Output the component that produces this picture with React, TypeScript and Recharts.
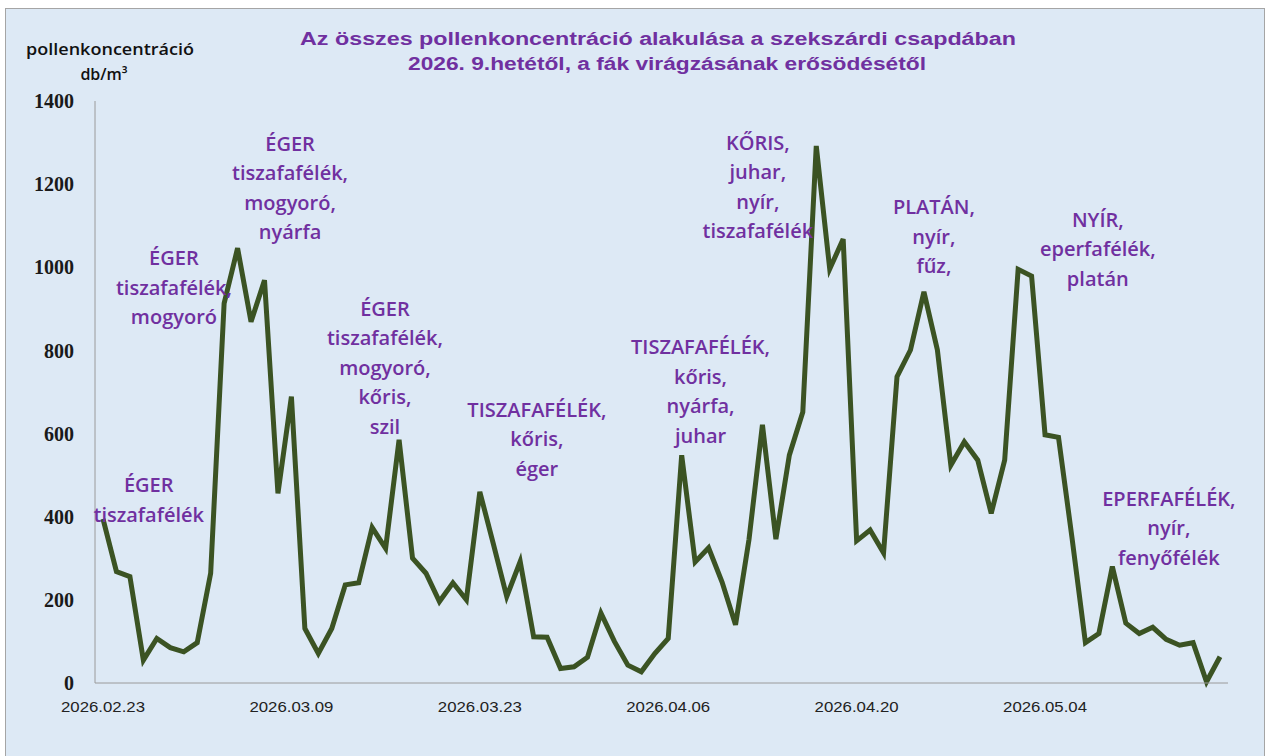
import React from 'react';
import { LineChart, Line, XAxis, YAxis, ReferenceDot } from 'recharts';

// napi dátumok (2026.02.23 - 2026.05.17)
const dates = [
  '2026.02.23', '2026.02.24', '2026.02.25', '2026.02.26', '2026.02.27', '2026.02.28',
  '2026.03.01', '2026.03.02', '2026.03.03', '2026.03.04', '2026.03.05', '2026.03.06', '2026.03.07',
  '2026.03.08', '2026.03.09', '2026.03.10', '2026.03.11', '2026.03.12', '2026.03.13', '2026.03.14',
  '2026.03.15', '2026.03.16', '2026.03.17', '2026.03.18', '2026.03.19', '2026.03.20', '2026.03.21',
  '2026.03.22', '2026.03.23', '2026.03.24', '2026.03.25', '2026.03.26', '2026.03.27', '2026.03.28',
  '2026.03.29', '2026.03.30', '2026.03.31',
  '2026.04.01', '2026.04.02', '2026.04.03', '2026.04.04', '2026.04.05', '2026.04.06', '2026.04.07',
  '2026.04.08', '2026.04.09', '2026.04.10', '2026.04.11', '2026.04.12', '2026.04.13', '2026.04.14',
  '2026.04.15', '2026.04.16', '2026.04.17', '2026.04.18', '2026.04.19', '2026.04.20', '2026.04.21',
  '2026.04.22', '2026.04.23', '2026.04.24', '2026.04.25', '2026.04.26', '2026.04.27', '2026.04.28',
  '2026.04.29', '2026.04.30',
  '2026.05.01', '2026.05.02', '2026.05.03', '2026.05.04', '2026.05.05', '2026.05.06', '2026.05.07',
  '2026.05.08', '2026.05.09', '2026.05.10', '2026.05.11', '2026.05.12', '2026.05.13', '2026.05.14',
  '2026.05.15', '2026.05.16', '2026.05.17',
];

// összes pollen, db/m3
const pollen = [
  395, 268, 256, 55, 107, 85, 75, 97, 264, 913, 1046, 869, 969, 456,
  689, 131, 71, 131, 236, 241, 374, 324, 585, 300, 264, 196, 241, 200,
  460, 335, 208, 292, 111, 110, 35, 39, 62, 168, 100, 43, 27, 71,
  107, 548, 291, 325, 243, 140, 345, 621, 346, 548, 652, 1292, 996, 1068,
  342, 368, 313, 737, 801, 941, 801, 524, 580, 536, 408, 536, 995, 979,
  597, 591, 350, 97, 119, 280, 144, 119, 134, 105, 91, 97, 3, 63,
];

const xTickDays = [0, 14, 28, 42, 56, 70];
const yTicks = [0, 200, 400, 600, 800, 1000, 1200, 1400];

// a feliratok helye adatkoordinátában (nap, érték)
const annotations = [
  { day: 3.4, value: 476, lines: ['ÉGER', 'tiszafafélék'] },
  { day: 5.27, value: 1022, lines: ['ÉGER', 'tiszafafélék,', 'mogyoró'] },
  { day: 13.9, value: 1297, lines: ['ÉGER', 'tiszafafélék,', 'mogyoró,', 'nyárfa'] },
  { day: 20.95, value: 900, lines: ['ÉGER', 'tiszafafélék,', 'mogyoró,', 'kőris,', 'szil'] },
  { day: 32.24, value: 657, lines: ['TISZAFAFÉLÉK,', 'kőris,', 'éger'] },
  { day: 44.4, value: 808, lines: ['TISZAFAFÉLÉK,', 'kőris,', 'nyárfa,', 'juhar'] },
  { day: 48.66, value: 1299, lines: ['KŐRIS,', 'juhar,', 'nyír,', 'tiszafafélék'] },
  { day: 61.74, value: 1145, lines: ['PLATÁN,', 'nyír,', 'fűz,'] },
  { day: 73.92, value: 1114, lines: ['NYÍR,', 'eperfafélék,', 'platán'] },
  { day: 79.2, value: 443, lines: ['EPERFAFÉLÉK,', 'nyír,', 'fenyőfélék'] },
];

const data = pollen.map((value, i) => ({ day: i, date: dates[i], value }));

const PURPLE = '#7030a0';

const DateTick = ({ x, y, payload }: any) => (
  <text
    x={x}
    y={y}
    dy={10}
    textAnchor="middle"
    fontFamily="'Liberation Sans', Arial, sans-serif"
    fontSize={14}
    fill="#222"
    textLength={84}
    lengthAdjust="spacingAndGlyphs"
  >
    {dates[payload.value]}
  </text>
);

const annotationShape = (lines: string[]) => (props: any) => {
  const { cx, cy } = props;
  return (
    <text
      x={cx}
      y={cy + 7}
      textAnchor="middle"
      fill={PURPLE}
      fontFamily="'Open Sans', sans-serif"
      fontWeight={600}
      fontSize={20}
    >
      {lines.map((line, i) => (
        <tspan key={i} x={cx} dy={i === 0 ? 0 : 29.5}>
          {line}
        </tspan>
      ))}
    </text>
  );
};

export default function App() {
  return (
    <div
      style={{
        position: 'absolute',
        left: 5,
        top: 8,
        width: 1258,
        height: 760,
        border: '1px solid #a5a5a5',
        background: '#dde9f5',
        overflow: 'hidden',
      }}
    >
      <LineChart
        width={1256}
        height={747}
        data={data}
        margin={{ top: 92, right: 34, left: 0, bottom: 33 }}
      >
        <XAxis
          type="number"
          dataKey="day"
          domain={[0, 83]}
          ticks={xTickDays}
          padding={{ left: 8, right: 8 }}
          height={40}
          stroke="#9a9a9a"
          tickLine={false}
          tickSize={0}
          tickMargin={19}
          tick={<DateTick />}
        />
        <YAxis
          domain={[0, 1400]}
          ticks={yTicks}
          width={89}
          stroke="#9a9a9a"
          tickLine={false}
          tickSize={0}
          tickMargin={21}
          tick={{
            fontFamily: "'Liberation Serif', serif",
            fontSize: 20,
            fontWeight: 'bold',
            fill: '#1a1a1a',
          }}
        />
        <Line
          type="linear"
          dataKey="value"
          stroke="#3b5323"
          strokeWidth={5}
          dot={false}
          isAnimationActive={false}
        />
        {annotations.map((a, i) => (
          <ReferenceDot
            key={i}
            x={a.day}
            y={a.value}
            r={0}
            ifOverflow="visible"
            shape={annotationShape(a.lines)}
          />
        ))}
      </LineChart>

      <svg
        width={1258}
        height={760}
        style={{ position: 'absolute', left: 0, top: 0, pointerEvents: 'none' }}
      >
        <text
          x={294}
          y={36}
          fontFamily="'Liberation Sans', Arial, sans-serif"
          fontWeight="bold"
          fontSize={18}
          fill={PURPLE}
          textLength={716}
          lengthAdjust="spacingAndGlyphs"
        >
          Az összes pollenkoncentráció alakulása a szekszárdi csapdában
        </text>
        <text
          x={402}
          y={61}
          fontFamily="'Liberation Sans', Arial, sans-serif"
          fontWeight="bold"
          fontSize={18}
          fill={PURPLE}
          textLength={518}
          lengthAdjust="spacingAndGlyphs"
        >
          2026. 9.hetétől, a fák virágzásának erősödésétől
        </text>
        <text
          x={20}
          y={46}
          fontFamily="'Open Sans', sans-serif"
          fontWeight={600}
          fontSize={16}
          fill="#111"
          textLength={168}
          lengthAdjust="spacingAndGlyphs"
        >
          pollenkoncentráció
        </text>
        <text
          x={98}
          y={71}
          textAnchor="middle"
          fontFamily="'Open Sans', sans-serif"
          fontWeight={600}
          fontSize={16}
          fill="#111"
        >
          db/m³
        </text>
      </svg>
    </div>
  );
}
